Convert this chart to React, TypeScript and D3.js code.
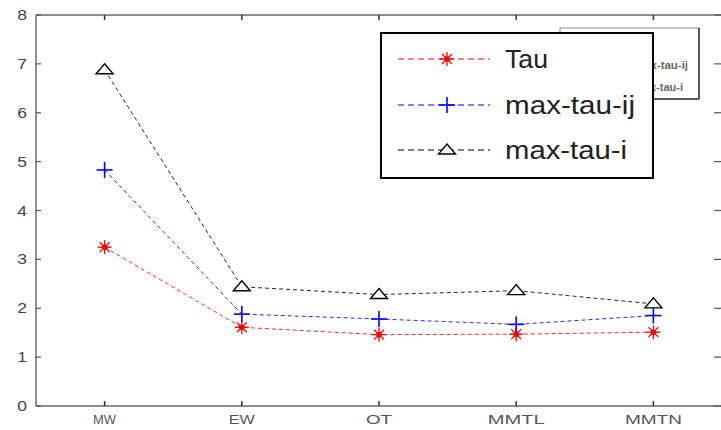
import React from "react";
import * as d3 from "d3";

const categories = ["MW", "EW", "OT", "MMTL", "MMTN"];
const tau = [3.25, 1.61, 1.46, 1.47, 1.51];
const maxTauIJ = [4.83, 1.88, 1.78, 1.67, 1.85];
const maxTauI = [6.88, 2.44, 2.28, 2.36, 2.09];
const yTicks = [0, 1, 2, 3, 4, 5, 6, 7, 8];
const seriesNames = ["Tau", "max-tau-ij", "max-tau-i"];
const xLabelWidths = [23, 26, 26, 57, 57];
const legendTextWidths = [43, 130, 122];

const W = 721;
const H = 430;
const L = 36, R = 722, T = 15, B = 406;

const x = d3.scaleLinear().domain([0.5, 5.5]).range([L, R]);
const y = d3.scaleLinear().domain([0, 8]).range([B, T]);

const colors = ["#ff0000", "#0000ff", "#000000"];
const seriesData = [tau, maxTauIJ, maxTauI];

function Marker({ kind, cx, cy, color }: { kind: number; cx: number; cy: number; color: string }) {
  if (kind === 0) {
    const r = 7;
    const d = r * Math.SQRT1_2;
    return (
      <g stroke={color} strokeWidth={1.3}>
        <line x1={cx - r} y1={cy} x2={cx + r} y2={cy} />
        <line x1={cx} y1={cy - r} x2={cx} y2={cy + r} />
        <line x1={cx - d} y1={cy - d} x2={cx + d} y2={cy + d} />
        <line x1={cx - d} y1={cy + d} x2={cx + d} y2={cy - d} />
        <circle cx={cx} cy={cy} r={2.8} fill={color} stroke="none" />
      </g>
    );
  }
  if (kind === 1) {
    const r = 8;
    return (
      <g stroke={color} strokeWidth={1.6}>
        <line x1={cx - r} y1={cy} x2={cx + r} y2={cy} />
        <line x1={cx} y1={cy - r} x2={cx} y2={cy + r} />
      </g>
    );
  }
  return (
    <polygon
      points={`${cx},${cy - 6} ${cx + 8.5},${cy + 4} ${cx - 8.5},${cy + 4}`}
      fill="white"
      stroke={color}
      strokeWidth={1.4}
    />
  );
}

export default function App() {
  const line = d3
    .line<number>()
    .x((_, i) => x(i + 1))
    .y((d) => y(d));

  const legX = 381, legY = 33, legW = 272, legH = 145;
  const rowY = [59, 105, 150];

  return (
    <svg
      width={W}
      height={H}
      style={{ position: "fixed", left: 0, top: 0, background: "white" }}
      fontFamily="Liberation Sans, Arial, sans-serif"
    >
      <rect x={0} y={0} width={W} height={H} fill="white" />
      {/* axes box */}
      <g stroke="#6a6a6a" strokeWidth={1.5} fill="none">
        <line x1={L} y1={T} x2={L} y2={B} />
        <line x1={L} y1={B} x2={R} y2={B} />
        <line x1={L} y1={T} x2={R} y2={T} />
        <line x1={R} y1={T} x2={R} y2={B} />
      </g>
      {/* y ticks */}
      {yTicks.map((t) => (
        <g key={"y" + t}>
          <line x1={L} x2={L + 5} y1={y(t)} y2={y(t)} stroke="#555" strokeWidth={1.2} />
          <line x1={R - 8} x2={R} y1={y(t)} y2={y(t)} stroke="#555" strokeWidth={1.2} />
          <text
            x={27}
            y={y(t)}
            dy="0.36em"
            textAnchor="end"
            fontSize={14}
            fill="#444"
            transform={`translate(${27 * -0.25},0) scale(1.25,1)`}
          >
            {t}
          </text>
        </g>
      ))}
      {/* x ticks */}
      {categories.map((c, i) => (
        <g key={c}>
          <line x1={x(i + 1)} x2={x(i + 1)} y1={B} y2={B - 5} stroke="#333" strokeWidth={1.5} />
          <line x1={x(i + 1)} x2={x(i + 1)} y1={T} y2={T + 5} stroke="#333" strokeWidth={1.5} />
          <text
            x={x(i + 1) - xLabelWidths[i] / 2}
            y={424}
            fontSize={12.5}
            fill="#555"
            textLength={xLabelWidths[i]}
            lengthAdjust="spacingAndGlyphs"
          >
            {c}
          </text>
        </g>
      ))}
      {/* series lines */}
      {seriesData.map((s, k) => (
        <path
          key={"l" + k}
          d={line(s) || ""}
          fill="none"
          stroke={colors[k]}
          strokeWidth={1}
          strokeDasharray="4,3"
          opacity={0.85}
        />
      ))}
      {seriesData.map((s, k) =>
        s.map((v, i) => (
          <Marker key={`m${k}-${i}`} kind={k} cx={x(i + 1)} cy={y(v)} color={colors[k]} />
        ))
      )}
      {/* background (older) legend box */}
      <g>
        <rect x={560} y={28} width={139} height={71} fill="white" stroke="#888" strokeWidth={1} />
        <line x1={699} y1={28} x2={699} y2={99} stroke="#333" strokeWidth={1.5} />
        <line x1={560} y1={99} x2={699} y2={99} stroke="#333" strokeWidth={1.5} />
        {["max-tau-ij", "max-tau-i"].map((n, i) => (
          <text
            key={n}
            x={634}
            y={i === 0 ? 69 : 91}
            fontSize={11}
            fontWeight="bold"
            fill="#666"
            textLength={i === 0 ? 54 : 49}
            lengthAdjust="spacingAndGlyphs"
          >
            {n}
          </text>
        ))}
      </g>
      {/* main legend */}
      <g>
        <rect x={legX} y={legY} width={legW} height={legH} fill="white" stroke="#000" strokeWidth={2} />
        {seriesNames.map((n, k) => (
          <g key={n}>
            <line
              x1={398}
              x2={490}
              y1={rowY[k]}
              y2={rowY[k]}
              stroke={colors[k]}
              strokeWidth={1.2}
              strokeDasharray="6,4"
            />
            <Marker kind={k} cx={447} cy={rowY[k]} color={colors[k]} />
            <text
              x={505}
              y={rowY[k]}
              dy="0.36em"
              fontSize={25}
              fill="#222"
              textLength={legendTextWidths[k]}
              lengthAdjust="spacingAndGlyphs"
            >
              {n}
            </text>
          </g>
        ))}
      </g>
    </svg>
  );
}
